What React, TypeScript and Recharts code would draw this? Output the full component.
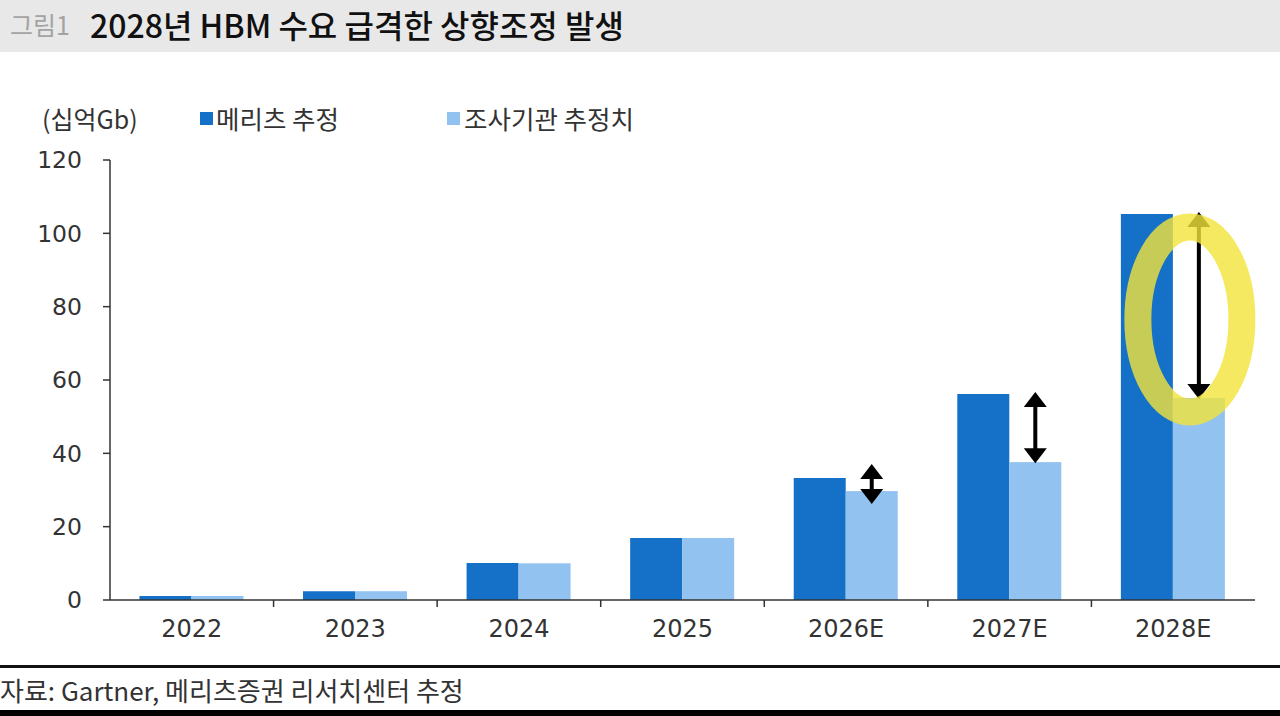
import { Bar, BarChart, XAxis, YAxis } from "recharts";

const years = ["2022", "2023", "2024", "2025", "2026E", "2027E", "2028E"];
const meritzEstimate = [1.1, 2.4, 10.1, 16.9, 33.3, 56.2, 105.3];
const researchEstimate = [1.1, 2.4, 10.0, 16.9, 29.7, 37.6, 55.1];
const yTicks = [0, 20, 40, 60, 80, 100, 120];
// half steps carry the year labels, whole steps the category boundary ticks
const slotTicks = [0.5, 1, 1.5, 2, 2.5, 3, 3.5, 4, 4.5, 5, 5.5, 6, 6.5];

const data = years.map((year, i) => ({
  year,
  slot: i + 0.5,
  meritz: meritzEstimate[i],
  research: researchEstimate[i],
}));

const gaps = data.map((d) => d.meritz - d.research);
const highlightIndex = gaps.indexOf(Math.max(...gaps));

const FONT = '"Noto Sans CJK KR", "Noto Sans", sans-serif';
const NUM_FONT = '"DejaVu Sans", "Noto Sans CJK KR", sans-serif';
const TEXT = "#333";
const DARK = "#1570c8";
const LIGHT = "#92c2f0";

function SlotTick(props: any) {
  const { x, y, payload } = props;
  const v = payload.value;
  if (Number.isInteger(v)) {
    return <line x1={x} x2={x} y1={y - 20} y2={y - 13} stroke={TEXT} strokeWidth={1.5} />;
  }
  return (
    <text x={x} y={y} dy="0.7em" textAnchor="middle" fill={TEXT} fontSize={24} fontFamily={NUM_FONT}>
      {years[Math.floor(v)]}
    </text>
  );
}

function Arrow({ x, top, bottom }: { x: number; top: number; bottom: number }) {
  const head = 15;
  const half = 11.5;
  return (
    <g>
      <line x1={x} x2={x} y1={top + head - 2} y2={bottom - head + 2} stroke="#000" strokeWidth={4} />
      <polygon points={`${x},${top} ${x - half},${top + head} ${x + half},${top + head}`} fill="#000" />
      <polygon points={`${x},${bottom} ${x - half},${bottom - head} ${x + half},${bottom - head}`} fill="#000" />
    </g>
  );
}

function ResearchBar(props: any) {
  const { x, y, width, height, payload, index } = props;
  const base = y + height;
  const perUnit = height / payload.research;
  const darkTop = base - payload.meritz * perUnit;
  const cx = x + width / 2;
  let arrow = null;
  let ring = null;
  if (payload.meritz - payload.research > 1) {
    let top = darkTop - 2;
    let bottom = y + 1;
    if (bottom - top < 40) {
      const mid = (top + bottom) / 2;
      top = mid - 20;
      bottom = mid + 20;
    }
    arrow = <Arrow x={cx} top={top} bottom={bottom} />;
    if (index === highlightIndex) {
      ring = (
        <ellipse
          cx={cx - 9}
          cy={(top + bottom) / 2 + 14}
          rx={52}
          ry={(bottom - top) / 2 - 1}
          fill="none"
          stroke="#f3e43a"
          strokeOpacity={0.8}
          strokeWidth={27}
        />
      );
    }
  }
  return (
    <g>
      <rect x={x} y={y} width={width} height={height} fill={LIGHT} />
      {arrow}
      {ring}
    </g>
  );
}

export default function App() {
  return (
    <div
      style={{
        position: "absolute",
        left: 0,
        top: 0,
        width: 1280,
        height: 716,
        background: "#fff",
        overflow: "hidden",
        fontFamily: FONT,
        color: TEXT,
      }}
    >
      <div style={{ position: "absolute", left: 0, top: 0, width: 1280, height: 52, background: "#e8e8e8" }} />
      <div style={{ position: "absolute", left: 10, top: 5, fontSize: 25, color: "#a3a3a3", lineHeight: "38px" }}>
        그림1
      </div>
      <div
        style={{
          position: "absolute",
          left: 90,
          top: 3,
          fontSize: 32,
          fontWeight: 500,
          color: "#111",
          lineHeight: "42px",
        }}
      >
        2028년 HBM 수요 급격한 상향조정 발생
      </div>

      <div style={{ position: "absolute", left: 42, top: 101, fontSize: 25, lineHeight: "34px" }}>(십억Gb)</div>
      <div style={{ position: "absolute", left: 200, top: 101, fontSize: 25.5, lineHeight: "34px", display: "flex", alignItems: "center" }}>
        <span style={{ width: 13, height: 13, background: DARK, marginRight: 3 }} />
        메리츠 추정
      </div>
      <div style={{ position: "absolute", left: 447, top: 101, fontSize: 25.5, lineHeight: "34px", display: "flex", alignItems: "center" }}>
        <span style={{ width: 13, height: 13, background: LIGHT, marginRight: 4 }} />
        조사기관 추정치
      </div>

      <div style={{ position: "absolute", left: 0, top: 0 }}>
        <BarChart
          width={1280}
          height={716}
          data={data}
          margin={{ top: 160, right: 25, bottom: 66, left: 0 }}
          barCategoryGap="18%"
          barGap={0}
        >
          <XAxis xAxisId="cat" dataKey="year" hide height={0} />
          <XAxis
            xAxisId="grid"
            type="number"
            dataKey="slot"
            domain={[0, 7]}
            ticks={slotTicks}
            interval={0}
            tick={<SlotTick />}
            tickLine={false}
            tickSize={7}
            tickMargin={13}
            height={50}
            axisLine={{ stroke: TEXT, strokeWidth: 1.5 }}
          />
          <YAxis
            domain={[0, 120]}
            ticks={yTicks}
            interval={0}
            width={110}
            tickSize={7}
            tickMargin={21}
            axisLine={{ stroke: TEXT, strokeWidth: 1.5 }}
            tickLine={{ stroke: TEXT, strokeWidth: 1.5 }}
            tick={{ fill: TEXT, fontSize: 23.5, fontFamily: NUM_FONT }}
          />
          <Bar xAxisId="cat" dataKey="meritz" fill={DARK} isAnimationActive={false} />
          <Bar xAxisId="cat" dataKey="research" fill={LIGHT} shape={<ResearchBar />} isAnimationActive={false} />
        </BarChart>
      </div>

      <div style={{ position: "absolute", left: 0, top: 665, width: 1280, height: 3, background: "#111" }} />
      <div style={{ position: "absolute", left: 0, top: 672, fontSize: 26, lineHeight: "36px" }}>
        자료: Gartner, 메리츠증권 리서치센터 추정
      </div>
      <div style={{ position: "absolute", left: 0, top: 710, width: 1280, height: 6, background: "#000" }} />
    </div>
  );
}
